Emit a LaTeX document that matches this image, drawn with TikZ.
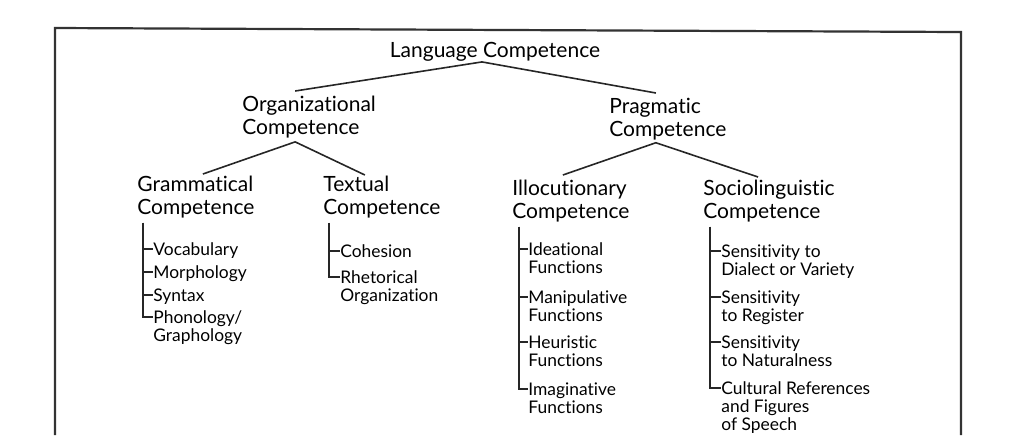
\documentclass[tikz,border=0pt]{standalone}
\usepackage{fontspec}
\setmainfont{Lato}[Ligatures=NoCommon]

\begin{document}
\begin{tikzpicture}[x=0.5pt,y=-0.5pt,
    head/.style={inner sep=0pt, align=left, anchor=north west, font=\fontsize{10.5}{11.5}\selectfont},
    item/.style={inner sep=0pt, align=left, anchor=north west, font=\fontsize{8.7}{9}\selectfont},
    link/.style={draw=black!85, line width=0.8pt},
    bar/.style={draw=black!85, line width=0.7pt},
    frame/.style={draw=black!80, line width=1.1pt}]
    \useasboundingbox (0,0) rectangle (1019,435);

    % outer frame, open at the bottom
    \draw[frame] (55,435) -- (55,28) -- (961,32) -- (961,435);

    \node[inner sep=0pt, font=\fontsize{10.5}{12}\selectfont] (lang) at (495,52) {Language Competence};

    \node[head] (org) at (242,96) {Organizational\\Competence};
    \node[head] (prag) at (609,98) {Pragmatic\\Competence};

    \node[head] (gram) at (137,176) {Grammatical\\Competence};
    \node[head] (text) at (323,176) {Textual\\Competence};
    \node[head] (illoc) at (512,180) {Illocutionary\\Competence};
    \node[head] (socio) at (703,180) {Sociolinguistic\\Competence};

    \node[item] (vocab) at (153,242) {Vocabulary};
    \node[item] (morph) at (153,265) {Morphology};
    \node[item] (syntax) at (153,288) {Syntax};
    \node[item] (phon) at (153,310) {Phonology/\\Graphology};

    \node[item] (cohes) at (340,244) {Cohesion};
    \node[item] (rhet) at (340,270) {Rhetorical\\Organization};

    \node[item] (idea) at (528,242) {Ideational\\Functions};
    \node[item] (manip) at (528,290) {Manipulative\\Functions};
    \node[item] (heur) at (528,335) {Heuristic\\Functions};
    \node[item] (imag) at (528,382) {Imaginative\\Functions};

    \node[item] (dial) at (721,244) {Sensitivity to\\Dialect or Variety};
    \node[item] (regis) at (721,290) {Sensitivity\\to Register};
    \node[item] (natur) at (721,335) {Sensitivity\\to Naturalness};
    \node[item] (cult) at (721,381) {Cultural References\\and Figures\\of Speech};

    % tree
    \draw[link] ([xshift=-7pt,yshift=2.5pt]org.north) -- ([xshift=-6.5pt]lang.south)
                -- ([xshift=-6pt,yshift=2.5pt]prag.north);
    \draw[link] ([xshift=3.5pt,yshift=1pt]gram.north) -- ([xshift=-7pt,yshift=-1.5pt]org.south)
                -- ([xshift=-8.5pt,yshift=0.5pt]text.north);
    \draw[link] ([xshift=-4pt,yshift=2.5pt]illoc.north) -- ([xshift=-6pt,yshift=-1pt]prag.south)
                -- ([xshift=-5.5pt,yshift=1.5pt]socio.north);

    % brackets
    \coordinate (gtop) at ([xshift=3pt,yshift=-2pt]gram.south west);
    \coordinate (ttop) at ([xshift=3pt,yshift=-2pt]text.south west);
    \coordinate (itop) at ([xshift=3.5pt,yshift=-2pt]illoc.south west);
    \coordinate (stop) at ([xshift=3.5pt,yshift=-2pt]socio.south west);

    \draw[bar] (gtop) |- ([yshift=-3.5pt]vocab.north west);
    \draw[bar] (gtop) |- ([yshift=-3.5pt]morph.north west);
    \draw[bar] (gtop) |- ([yshift=-3.5pt]syntax.north west);
    \draw[bar] (gtop) |- ([yshift=-3.5pt]phon.north west);

    \draw[bar] (ttop) |- ([yshift=-3.5pt]cohes.north west);
    \draw[bar] (ttop) |- ([yshift=-3.5pt]rhet.north west);

    \draw[bar] (itop) |- ([yshift=-3.5pt]idea.north west);
    \draw[bar] (itop) |- ([yshift=-3.5pt]manip.north west);
    \draw[bar] (itop) |- ([yshift=-3.5pt]heur.north west);
    \draw[bar] (itop) |- ([yshift=-3.5pt]imag.north west);

    \draw[bar] (stop) |- ([yshift=-3.5pt]dial.north west);
    \draw[bar] (stop) |- ([yshift=-3.5pt]regis.north west);
    \draw[bar] (stop) |- ([yshift=-3.5pt]natur.north west);
    \draw[bar] (stop) |- ([yshift=-3.5pt]cult.north west);
\end{tikzpicture}
\end{document}
